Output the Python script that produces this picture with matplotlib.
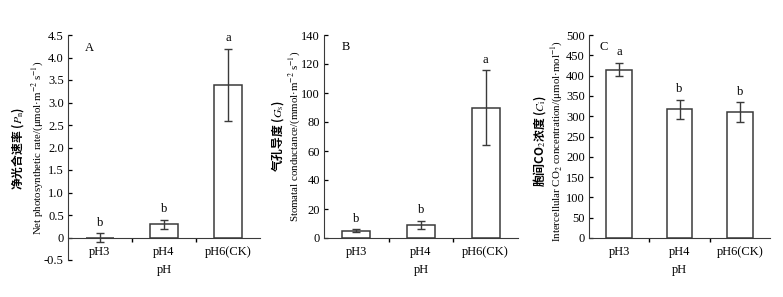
import matplotlib.pyplot as plt
import numpy as np

plt.rcParams['font.family'] = ['Liberation Serif', 'Noto Sans CJK SC']
plt.rcParams['mathtext.fontset'] = 'stix'

groups = ['pH3', 'pH4', 'pH6(CK)']

pn_mean = [0.0, 0.3, 3.4]
pn_err = [0.1, 0.1, 0.8]
pn_sig = ['b', 'b', 'a']

gs_mean = [5, 9, 90]
gs_err = [1, 3, 26]
gs_sig = ['b', 'b', 'a']

ci_mean = [415, 317, 310]
ci_err = [17, 24, 25]
ci_sig = ['a', 'b', 'b']

W, H = 783, 297
fig = plt.figure(figsize=(W / 100, H / 100), dpi=100)


def px_axes(left, right, top, bottom):
    return fig.add_axes([left / W, 1 - bottom / H, (right - left) / W, (bottom - top) / H])


def draw_panel(ax, mean, err, sig, ylim, yticks, yfmt, tag, tag_x):
    x = np.arange(1, len(groups) + 1)
    ax.bar(x, mean, width=0.43, color='white', edgecolor='#3a3a3a', linewidth=1.1, zorder=2)
    ax.errorbar(x, mean, yerr=err, fmt='none', ecolor='#3a3a3a', elinewidth=1.0,
                capsize=3, capthick=1.0, zorder=3)
    for xi, m, e, s in zip(x, mean, err, sig):
        ax.annotate(s, xy=(xi, m + e), xytext=(0, 3), textcoords='offset points',
                    ha='center', va='bottom', fontsize=9)
    ax.set_xlim(0.5, 3.5)
    ax.set_ylim(*ylim)
    ax.set_yticks(yticks)
    ax.set_yticklabels([yfmt(v) for v in yticks])
    ax.set_xticks(x)
    ax.set_xticklabels(groups)
    ax.set_xticks([1.5, 2.5], minor=True)
    ax.tick_params(axis='x', which='major', length=0, pad=6, labelsize=9)
    ax.tick_params(axis='x', which='minor', length=3, direction='out', width=1)
    ax.tick_params(axis='y', direction='in', length=3, width=0.9, labelsize=9, pad=3)
    ax.spines['top'].set_visible(False)
    ax.spines['right'].set_visible(False)
    ax.spines['left'].set_color('#3a3a3a')
    ax.spines['bottom'].set_color('#3a3a3a')
    ax.spines['bottom'].set_position(('data', 0))
    ax.text(tag_x, 0.97, tag, transform=ax.transAxes, ha='left', va='top', fontsize=9)
    # x title placed by hand so all three panels line up
    bb = ax.get_position()
    fig.text((bb.x0 + bb.x1) / 2, 1 - 270 / H, 'pH', ha='center', va='center', fontsize=9)


def ylab(x_zh, x_en, y, zh, en):
    fig.text(x_zh / W, 1 - y / H, zh, rotation=90, ha='center', va='center', fontsize=8.5,
             fontweight='bold', family=['Noto Sans CJK SC', 'DejaVu Sans'])
    fig.text(x_en / W, 1 - y / H, en, rotation=90, ha='center', va='center', fontsize=7.8)


axA = px_axes(68, 260, 35, 260)
draw_panel(axA, pn_mean, pn_err, pn_sig, (-0.5, 4.5), np.arange(-0.5, 4.51, 0.5),
           lambda v: '0' if abs(v) < 1e-9 else '%.1f' % v, 'A', 0.09)
ylab(18, 37, 148, '净光合速率 ($P_\\mathrm{n}$)', 'Net photosynthetic rate/(μmol·m$^{-2}$ s$^{-1}$)')

axB = px_axes(324, 518, 35, 238)
draw_panel(axB, gs_mean, gs_err, gs_sig, (0, 140), np.arange(0, 141, 20),
           lambda v: '%d' % v, 'B', 0.09)
ylab(278, 294, 136, '气孔导度 ($G_\\mathrm{s}$)', 'Stomatal conductance/(mmol·m$^{-2}$ s$^{-1}$)')

axC = px_axes(589, 770, 35, 238)
draw_panel(axC, ci_mean, ci_err, ci_sig, (0, 500), np.arange(0, 501, 50),
           lambda v: '%d' % v, 'C', 0.06)
ylab(540, 557, 141, '胞间CO$_2$浓度 ($C_\\mathrm{i}$)', 'Intercellular CO$_2$ concentration/(μmol·mol$^{-1}$)')

fig.savefig('out.png', dpi=100, facecolor='white')
